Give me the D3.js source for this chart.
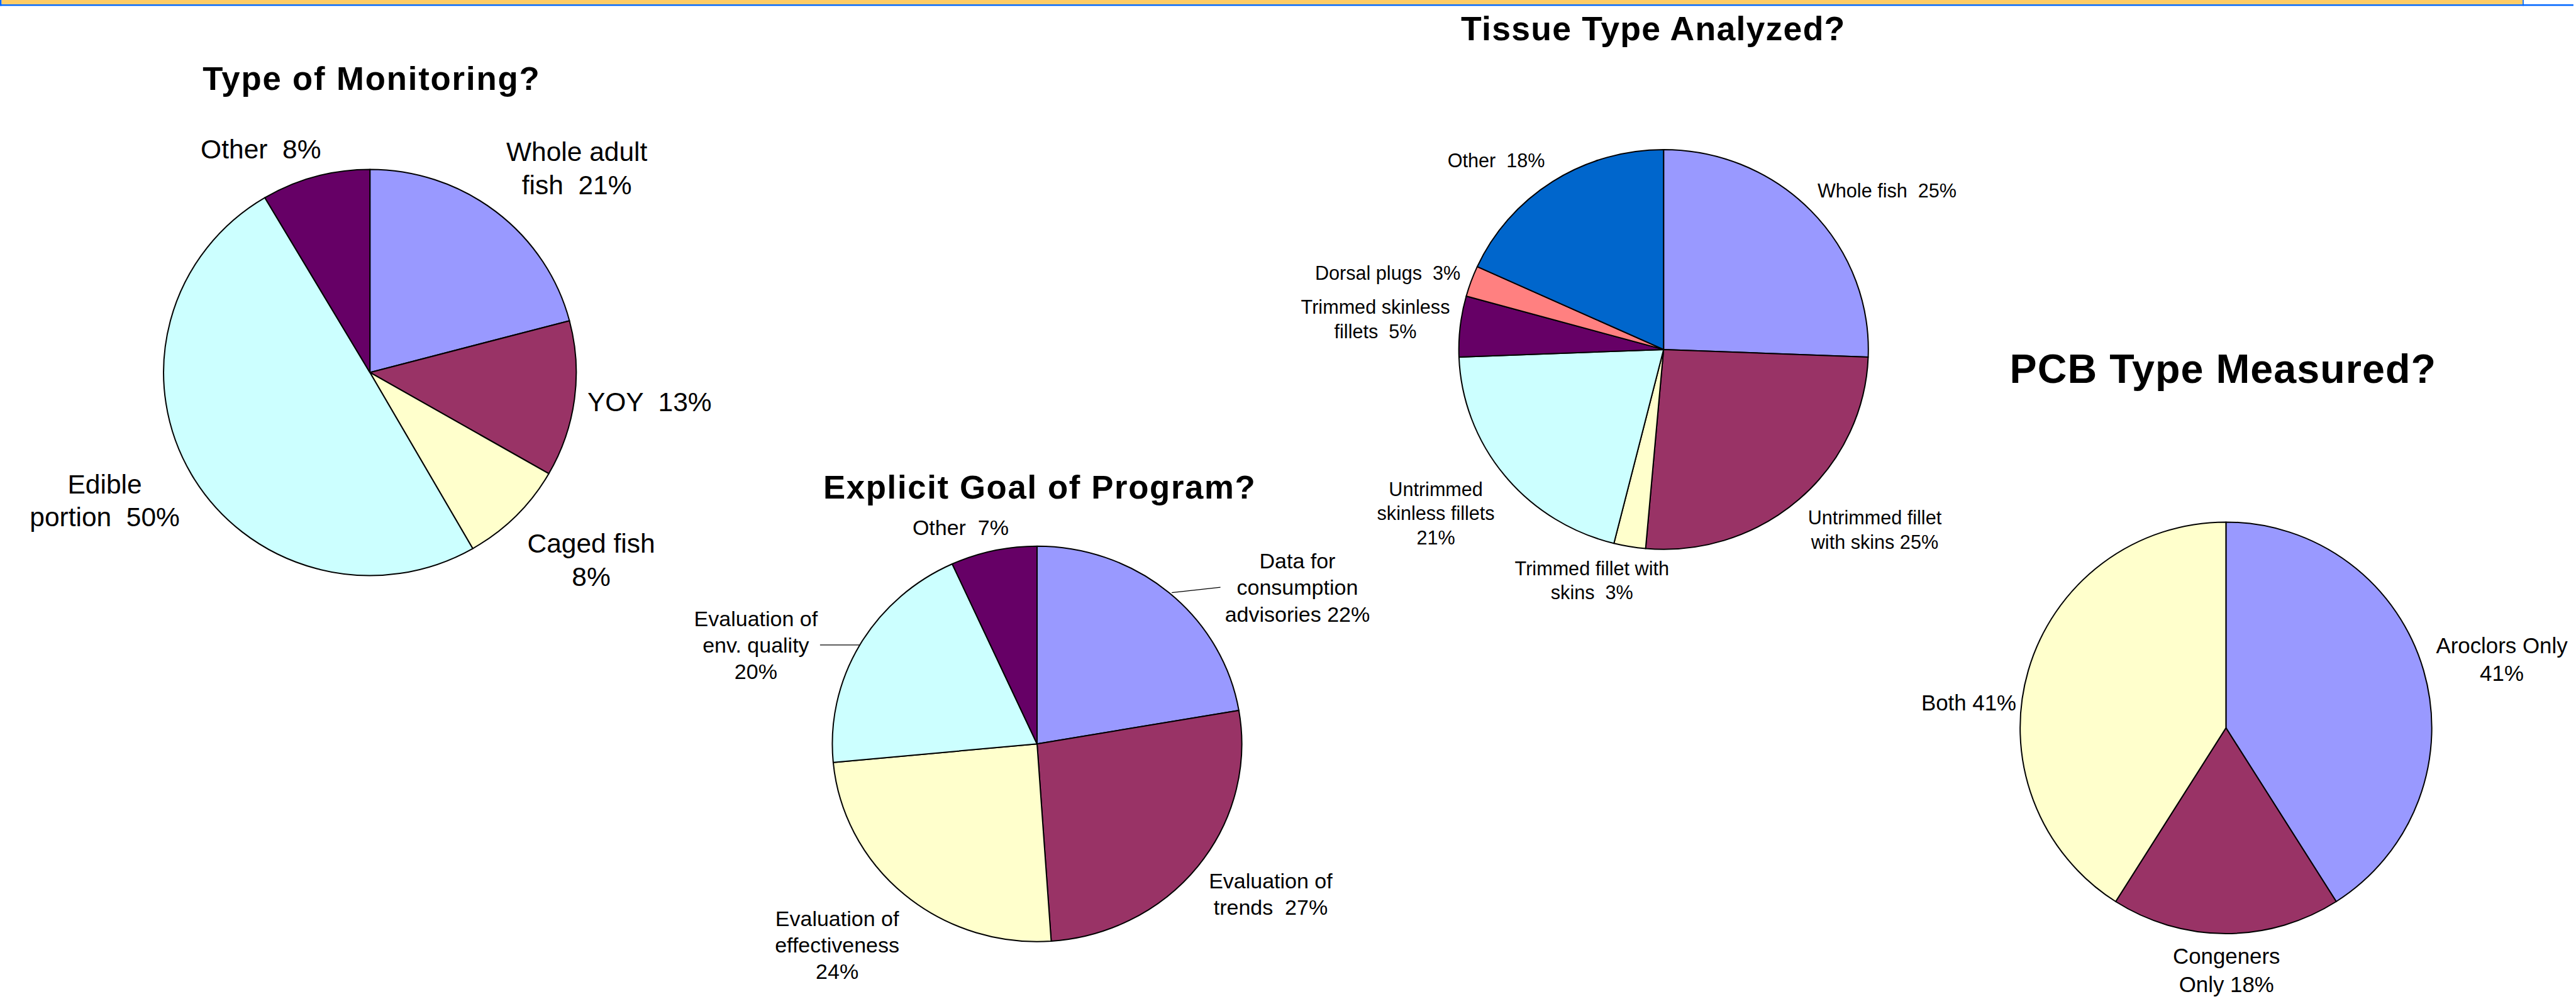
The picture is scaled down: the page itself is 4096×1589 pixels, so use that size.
<!DOCTYPE html>
<html>
<head>
<meta charset="utf-8">
<script src="https://cdn.jsdelivr.net/npm/d3@7/dist/d3.min.js"></script>
<style>
  body { margin: 0; background: #ffffff; overflow: hidden; }
  text { font-family: "Liberation Sans", Arial, sans-serif; fill: #000; white-space: pre; }
</style>
</head>
<body>
<svg id="chart"></svg>
<script>

// ---- data (label text as printed) ----
var monitoringCats = ["Whole adult fish", "YOY", "Caged fish", "Edible portion", "Other"];
var monitoringVals = [20.9, 12.4, 8.4, 49.8, 8.5];
var monitoringText = ["Whole adult\nfish  21%", "YOY  13%", "Caged fish\n8%", "Edible\nportion  50%", "Other  8%"];

var goalCats = ["Data for consumption advisories", "Evaluation of trends", "Evaluation of effectiveness", "Evaluation of env. quality", "Other"];
var goalVals = [22.3, 26.6, 24.6, 19.7, 6.8];
var goalText = ["Data for\nconsumption\nadvisories 22%", "Evaluation of\ntrends  27%", "Evaluation of\neffectiveness\n24%", "Evaluation of\nenv. quality\n20%", "Other  7%"];

var tissueCats = ["Whole fish", "Untrimmed fillet with skins", "Trimmed fillet with skins", "Untrimmed skinless fillets", "Trimmed skinless fillets", "Dorsal plugs", "Other"];
var tissueVals = [25.6, 25.8, 2.5, 20.5, 4.9, 2.5, 18.2];
var tissueText = ["Whole fish  25%", "Untrimmed fillet\nwith skins 25%", "Trimmed fillet with\nskins  3%", "Untrimmed\nskinless fillets\n21%", "Trimmed skinless\nfillets  5%", "Dorsal plugs  3%", "Other  18%"];

var pcbCats = ["Aroclors Only", "Congeners Only", "Both"];
var pcbVals = [41, 18, 41];
var pcbText = ["Aroclors Only\n41%", "Congeners\nOnly 18%", "Both 41%"];

// ---- styling / layout (reference pixels, scaled by k) ----
var k = 0.85;
var W = 4096, H = 1589;

var charts = [
  { title: "Type of Monitoring?", cats: monitoringCats, vals: monitoringVals, text: monitoringText,
    colors: ["#9999ff", "#993366", "#ffffcc", "#ccffff", "#660066"],
    cx: 692, cy: 697, rx: 386, ry: 380,
    tx: 694, ty: 168, tSize: 62, tWidth: 630,
    fSize: 50, lineH: 62,
    labelPos: [[1079, 301], [1215, 770], [1106, 1034], [196, 923], [488, 297]],
    leaders: [] },
  { title: "Explicit Goal of Program?", cats: goalCats, vals: goalVals, text: goalText,
    colors: ["#9999ff", "#993366", "#ffffcc", "#ccffff", "#660066"],
    cx: 1940, cy: 1392, rx: 383, ry: 370,
    tx: 1944, ty: 933, tSize: 62, tWidth: 808,
    fSize: 40, lineH: 49.5,
    labelPos: [[2427, 1064], [2377, 1662], [1566, 1733], [1414, 1172], [1797, 1001]],
    leaders: [[[2192, 1109], [2283, 1099]], [[1534, 1207], [1609, 1207]]] },
  { title: "Tissue Type Analyzed?", cats: tissueCats, vals: tissueVals, text: tissueText,
    colors: ["#9999ff", "#993366", "#ffffcc", "#ccffff", "#660066", "#ff8080", "#0066cc"],
    cx: 3112, cy: 654, rx: 383, ry: 374,
    tx: 3092, ty: 75, tSize: 63, tWidth: 718,
    fSize: 36, lineH: 45.5,
    labelPos: [[3530, 370], [3507, 981], [2978, 1076], [2686, 928], [2573, 587], [2596, 524], [2799, 313]],
    leaders: [] },
  { title: "PCB Type Measured?", cats: pcbCats, vals: pcbVals, text: pcbText,
    colors: ["#9999ff", "#993366", "#ffffcc"],
    cx: 4164, cy: 1362, rx: 385, ry: 385,
    tx: 4158, ty: 717, tSize: 76, tWidth: 797,
    fSize: 41, lineH: 52,
    labelPos: [[4680, 1222], [4165, 1804], [3683, 1329]],
    leaders: [] }
];

var svg = d3.select("#chart")
  .attr("width", W)
  .attr("height", H);

var root = svg.append("g").attr("transform", "scale(" + k + ")");

// banner strip along the top
root.append("rect").attr("x", 0).attr("y", 8).attr("width", 4814).attr("height", 3).attr("fill", "#0066ff");
root.append("rect").attr("x", 0).attr("y", 0).attr("width", 3).attr("height", 11).attr("fill", "#0066ff");
root.append("rect").attr("x", 3).attr("y", 0).attr("width", 4716).attr("height", 8).attr("fill", "#ffcc66");
root.append("rect").attr("x", 4719).attr("y", 0).attr("width", 2).attr("height", 11).attr("fill", "#0066ff");

var pie = d3.pie().sort(null).value(function (d) { return d; });

charts.forEach(function (c) {

  // pie (slightly elliptical, like the original)
  var arc = d3.arc().innerRadius(0).outerRadius(c.ry);
  var g = root.append("g")
    .attr("transform", "translate(" + c.cx + "," + c.cy + ") scale(" + (c.rx / c.ry) + ",1)");

  g.selectAll("path")
    .data(pie(c.vals))
    .enter().append("path")
    .attr("d", arc)
    .attr("fill", function (d, i) { return c.colors[i]; })
    .attr("stroke", "#000")
    .attr("stroke-width", 2)
    .attr("stroke-linejoin", "round")
    .attr("vector-effect", "non-scaling-stroke");

  // title
  root.append("text")
    .text(c.title)
    .attr("x", c.tx)
    .attr("y", c.ty)
    .attr("text-anchor", "middle")
    .attr("textLength", c.tWidth)
    .attr("lengthAdjust", "spacing")
    .style("font-weight", "bold")
    .style("font-size", c.tSize + "px");

  // leader lines
  c.leaders.forEach(function (l) {
    root.append("line")
      .attr("x1", l[0][0]).attr("y1", l[0][1])
      .attr("x2", l[1][0]).attr("y2", l[1][1])
      .attr("stroke", "#000")
      .attr("stroke-width", 1.5);
  });

  // slice labels
  c.text.forEach(function (t, i) {
    var lbl = root.append("text")
      .attr("text-anchor", "middle")
      .style("font-size", c.fSize + "px");
    t.split("\n").forEach(function (line, j) {
      lbl.append("tspan")
        .attr("x", c.labelPos[i][0])
        .attr("y", c.labelPos[i][1] + j * c.lineH)
        .text(line);
    });
  });
});

</script>
</body>
</html>
